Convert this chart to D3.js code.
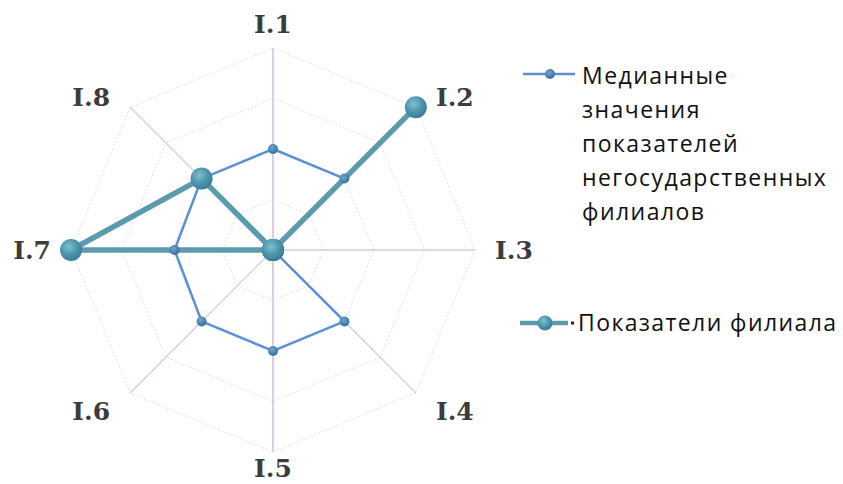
<!DOCTYPE html>
<html>
<head>
<meta charset="utf-8">
<script src="https://cdn.jsdelivr.net/npm/d3@7"></script>
<style>
  body { margin: 0; background: #fff; }
  svg { display: block; }
</style>
</head>
<body>
<div id="canvas"></div>
<script>
const W = 843
const H = 484

// data
const axes = ['I.1', 'I.2', 'I.3', 'I.4', 'I.5', 'I.6', 'I.7', 'I.8'];
const ringLevels = [1, 2, 3, 4];
const medianValues = [2, 2, 0, 2, 2, 2, 1.95, 2];
const branchValues = [0, 4, 0, 0, 0, 0, 4, 2];
const medianLegend = ['Медианные', 'значения', 'показателей', 'негосударственных', 'филиалов'];
const branchLegend = ['Показатели филиала'];

const cx = 273, cy = 250, R = 202;

const svg = d3.select('#canvas')
	.append('svg')
	.attr('width', W)
	.attr('height', H);

const defs = svg.append('defs');
const gBig = defs.append('radialGradient').attr('id', 'gBig')
	.attr('cx', '40%').attr('cy', '35%').attr('r', '65%');
gBig.append('stop').attr('offset', '0%').attr('stop-color', '#7fc0d2');
gBig.append('stop').attr('offset', '60%').attr('stop-color', '#4b93ab');
gBig.append('stop').attr('offset', '100%').attr('stop-color', '#3a7f96');
const gSmall = defs.append('radialGradient').attr('id', 'gSmall')
	.attr('cx', '40%').attr('cy', '35%').attr('r', '65%');
gSmall.append('stop').attr('offset', '0%').attr('stop-color', '#6fa6d0');
gSmall.append('stop').attr('offset', '100%').attr('stop-color', '#35709c');

const r = d3.scaleLinear().domain([0, 4]).range([0, R]);
const angle = d3.scalePoint().domain(axes).range([0, 2 * Math.PI * (axes.length - 1) / axes.length]);

const graph = svg.append('g').attr('transform', `translate(${cx}, ${cy})`);

const px = (a, v) => r(v) * Math.sin(angle(a));
const py = (a, v) => -r(v) * Math.cos(angle(a));

// rings
graph.selectAll('.ring')
	.data(ringLevels)
	.enter()
	.append('polygon')
		.attr('points', lv => axes.map(a => [px(a, lv), py(a, lv)].join(',')).join(' '))
		.attr('fill', 'none')
		.attr('stroke', '#e0dcf0')
		.attr('stroke-width', 1)
		.attr('stroke-dasharray', '2,2');

// spokes
graph.selectAll('.spoke')
	.data(axes)
	.enter()
	.append('line')
		.attr('x1', 0).attr('y1', 0)
		.attr('x2', a => px(a, 4))
		.attr('y2', a => py(a, 4))
		.attr('stroke', (a, i) => i % 2 === 0 ? '#c9a9d4' : '#c9c4ec')
		.attr('stroke-width', 1.2);

// axis labels
graph.selectAll('.lbl')
	.data(axes)
	.enter()
	.append('text')
		.attr('x', a => {
			const s = Math.sin(angle(a));
			return (R + 20) * s + (Math.abs(s) > 0.1 && Math.abs(s) < 0.9 ? 6 * Math.sign(s) : 0);
		})
		.attr('y', a => {
			const c = Math.cos(angle(a));
			const shift = Math.abs(c) > 0.9 ? -4 : (Math.abs(c) > 0.1 ? 4 : 0);
			return -(R + 20) * c + shift;
		})
		.attr('dy', '0.36em')
		.attr('text-anchor', a => {
			const s = Math.sin(angle(a));
			return s > 0.1 ? 'start' : (s < -0.1 ? 'end' : 'middle');
		})
		.attr('font-family', 'DejaVu Serif')
		.attr('font-weight', 'bold')
		.attr('font-size', 25)
		.attr('fill', '#3c3c3c')
		.text(a => a);

const radial = d3.lineRadial()
	.angle((d, i) => angle(axes[i]))
	.radius(d => r(d))
	.curve(d3.curveLinearClosed);

// median series
graph.append('path')
	.attr('d', radial(medianValues))
	.attr('fill', 'none')
	.attr('stroke', '#5b8fd6')
	.attr('stroke-width', 2.5);

// branch series
graph.append('path')
	.attr('d', radial(branchValues))
	.attr('fill', 'none')
	.attr('stroke', '#5c9bad')
	.attr('stroke-width', 5.5)
	.attr('stroke-linejoin', 'round');

graph.selectAll('.mMed')
	.data(medianValues)
	.enter()
	.append('circle')
		.attr('cx', (d, i) => px(axes[i], d))
		.attr('cy', (d, i) => py(axes[i], d))
		.attr('r', 5)
		.attr('fill', 'url(#gSmall)');

graph.selectAll('.mBr')
	.data(branchValues)
	.enter()
	.append('circle')
		.attr('cx', (d, i) => px(axes[i], d))
		.attr('cy', (d, i) => py(axes[i], d))
		.attr('r', 11)
		.attr('fill', 'url(#gBig)');

// legend
const leg1 = svg.append('g').attr('transform', 'translate(523, 74)');
leg1.append('line').attr('x1', 0).attr('x2', 52).attr('y1', 0).attr('y2', 0)
	.attr('stroke', '#5b8fd6').attr('stroke-width', 2.5);
leg1.append('circle').attr('cx', 27).attr('cy', 0).attr('r', 5).attr('fill', 'url(#gSmall)');
leg1.selectAll('text')
	.data(medianLegend)
	.enter()
	.append('text')
		.attr('x', 59)
		.attr('y', (d, i) => 10 + i * 34)
		.attr('font-family', 'Open Sans')
		.attr('font-size', 23)
		.attr('letter-spacing', 1.45)
		.attr('fill', '#111')
		.text(d => d);

const leg2 = svg.append('g').attr('transform', 'translate(520, 323)');
leg2.append('line').attr('x1', 0).attr('x2', 48).attr('y1', 0).attr('y2', 0)
	.attr('stroke', '#5c9bad').attr('stroke-width', 4.5);
leg2.append('circle').attr('cx', 25).attr('cy', 0).attr('r', 7.5).attr('fill', 'url(#gBig)');
leg2.append('rect').attr('x', 51).attr('y', -1.5).attr('width', 3).attr('height', 3).attr('fill', '#222');
leg2.selectAll('text')
	.data(branchLegend)
	.enter()
	.append('text')
		.attr('x', 58)
		.attr('y', 8)
		.attr('font-family', 'Open Sans')
		.attr('font-size', 23)
		.attr('letter-spacing', 1.4)
		.attr('fill', '#111')
		.text(d => d);
</script>
</body>
</html>
